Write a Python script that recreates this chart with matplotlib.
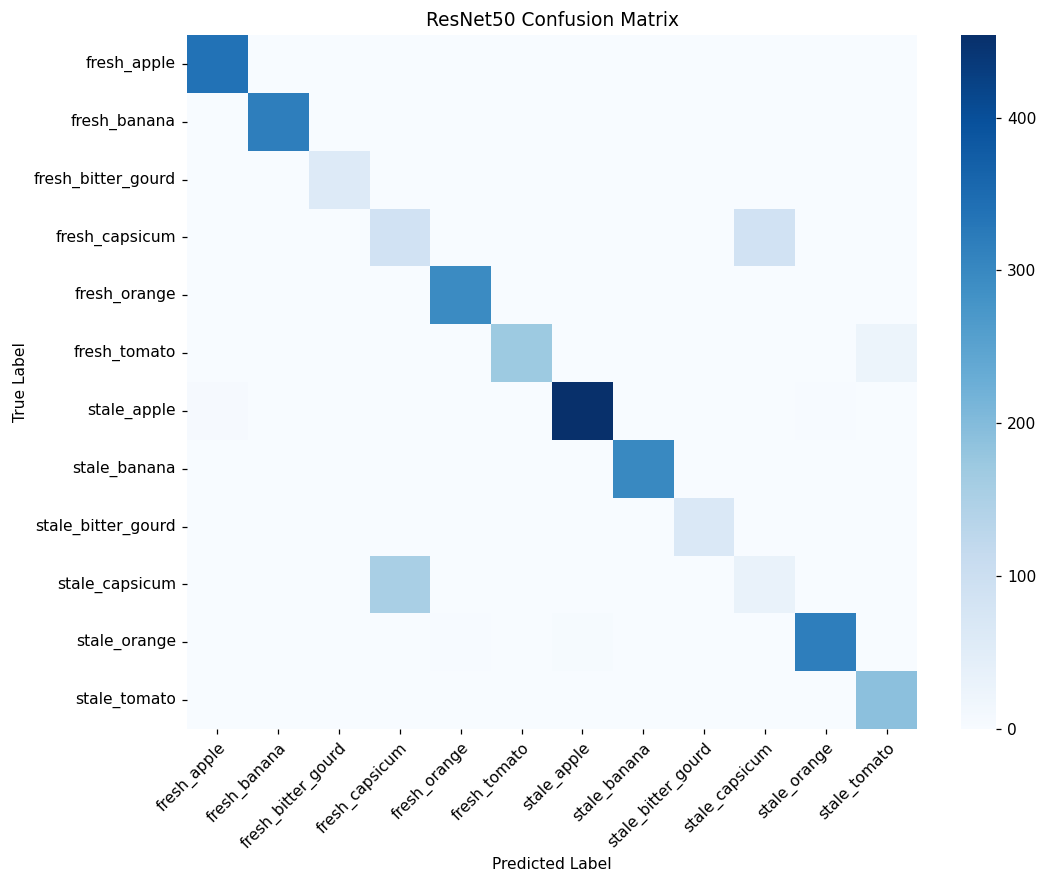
import numpy as np
import matplotlib
matplotlib.use("Agg")
import matplotlib.pyplot as plt
import seaborn as sns

labels = ["fresh_apple", "fresh_banana", "fresh_bitter_gourd", "fresh_capsicum",
          "fresh_orange", "fresh_tomato", "stale_apple", "stale_banana",
          "stale_bitter_gourd", "stale_capsicum", "stale_orange", "stale_tomato"]

row_fresh_apple        = [338, 0, 0, 0, 0, 0, 0, 0, 0, 0, 0, 0]
row_fresh_banana       = [0, 318, 0, 0, 0, 0, 0, 0, 0, 0, 0, 0]
row_fresh_bitter_gourd = [0, 0, 60, 0, 0, 0, 0, 0, 0, 0, 0, 0]
row_fresh_capsicum     = [0, 0, 0, 88, 0, 0, 0, 0, 0, 88, 0, 0]
row_fresh_orange       = [0, 0, 0, 0, 296, 0, 0, 0, 0, 0, 0, 0]
row_fresh_tomato       = [0, 0, 0, 0, 0, 172, 0, 0, 0, 0, 0, 26]
row_stale_apple        = [6, 0, 0, 0, 0, 0, 454, 0, 0, 0, 3, 1]
row_stale_banana       = [0, 0, 0, 0, 0, 0, 0, 298, 0, 0, 0, 0]
row_stale_bitter_gourd = [0, 0, 0, 0, 0, 0, 0, 0, 66, 0, 0, 0]
row_stale_capsicum     = [0, 0, 0, 156, 0, 0, 0, 0, 0, 32, 0, 0]
row_stale_orange       = [0, 0, 0, 0, 3, 1, 4, 0, 0, 0, 318, 0]
row_stale_tomato       = [0, 0, 0, 0, 0, 0, 0, 0, 0, 0, 0, 190]

cm = np.array([row_fresh_apple, row_fresh_banana, row_fresh_bitter_gourd,
               row_fresh_capsicum, row_fresh_orange, row_fresh_tomato,
               row_stale_apple, row_stale_banana, row_stale_bitter_gourd,
               row_stale_capsicum, row_stale_orange, row_stale_tomato])

S = 1.12
plt.rcParams.update({
    "font.size": 10 * S,
    "xtick.major.size": 3.5 * S,
    "ytick.major.size": 3.5 * S,
    "xtick.major.width": 0.8 * S,
    "ytick.major.width": 0.8 * S,
    "xtick.major.pad": 3.5 * S,
    "ytick.major.pad": 3.5 * S,
})

W, H = 1038, 875
fig = plt.figure(figsize=(W / 100, H / 100), dpi=100)
ax = fig.add_axes([187 / W, (H - 729) / H, 730 / W, 694 / H])
cax = fig.add_axes([961 / W, (H - 729) / H, 35 / W, 694 / H])

sns.heatmap(cm, cmap="Blues", ax=ax, cbar_ax=cax,
            xticklabels=labels, yticklabels=labels)

ax.set_title("ResNet50 Confusion Matrix", fontsize=12 * S, pad=6 * S)
ax.set_xlabel("Predicted Label", fontsize=10 * S)
ax.set_ylabel("True Label", fontsize=10 * S)
ax.tick_params(labelsize=10 * S)
cax.tick_params(labelsize=10 * S)
plt.setp(ax.get_xticklabels(), rotation=45, ha="right", rotation_mode="anchor")
plt.setp(ax.get_yticklabels(), rotation=0)

fig.savefig("out.png", dpi=100)
